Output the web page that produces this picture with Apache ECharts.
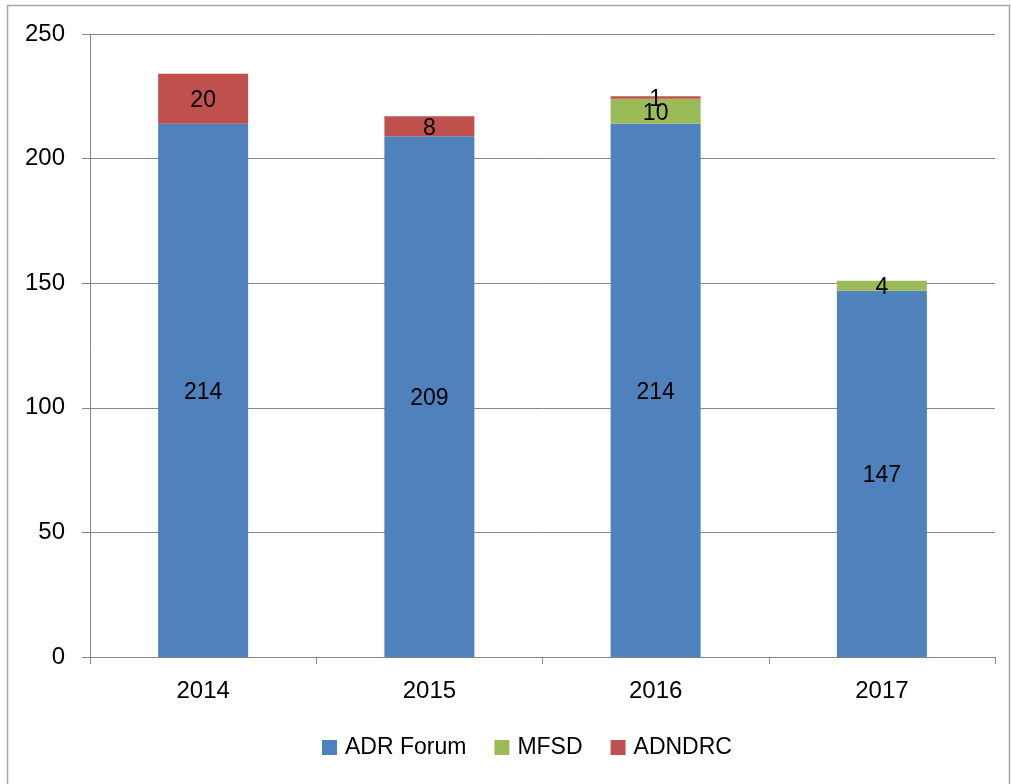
<!DOCTYPE html>
<html><head><meta charset="utf-8">
<script src="https://cdn.jsdelivr.net/npm/echarts@6/dist/echarts.min.js"></script>
<style>html,body{margin:0;padding:0;background:#fff}#c{width:1011px;height:784px}</style>
</head><body><div id="c"></div>
<script>
const categories = ['2014', '2015', '2016', '2017'];
const adrForum = [214, 209, 214, 147];
const mfsd = [null, null, 10, 4];
const adndrc = [20, 8, 1, null];
const yTicks = { min: 0, max: 250, interval: 50 };

const font = 'Liberation Sans, Arial, sans-serif';
const lbl = { show: true, position: 'inside', color: '#000', fontSize: 23, fontFamily: font, offset: [0, 2] };
const chart = echarts.init(document.getElementById('c'), null, { renderer: 'canvas' });
chart.setOption({
  animation: false,
  graphic: [{ type: 'rect', shape: { x: 7.5, y: 5.5, width: 1002, height: 800 }, style: { fill: 'none', stroke: '#a6a6a6', lineWidth: 1.5 }, silent: true }],
  grid: { left: 90, right: 16, top: 34, bottom: 127, containLabel: false },
  legend: {
    bottom: 20, left: 317, itemWidth: 15, itemHeight: 15, itemGap: 28,
    icon: 'rect',
    textStyle: { fontSize: 23, fontFamily: font, color: '#000', padding: [0, 0, 0, 3] },
    data: ['ADR Forum', 'MFSD', 'ADNDRC']
  },
  xAxis: {
    type: 'category', data: categories,
    axisLine: { lineStyle: { color: '#868686', width: 1 } },
    axisTick: { show: true, length: 7, alignWithLabel: false, lineStyle: { color: '#868686' } },
    axisLabel: { fontSize: 24, fontFamily: font, color: '#000', margin: 22 }
  },
  yAxis: {
    type: 'value', min: yTicks.min, max: yTicks.max, interval: yTicks.interval,
    axisLine: { show: true, lineStyle: { color: '#868686', width: 1 } },
    axisTick: { show: true, length: 8, lineStyle: { color: '#868686' } },
    splitLine: { show: true, lineStyle: { color: '#868686', width: 1 } },
    axisLabel: { fontSize: 24, fontFamily: font, color: '#000', margin: 25 }
  },
  series: [
    { name: 'ADR Forum', type: 'bar', stack: 's', barWidth: 90, data: adrForum, itemStyle: { color: '#4F81BD' }, label: lbl },
    { name: 'MFSD', type: 'bar', stack: 's', barWidth: 90, data: mfsd, itemStyle: { color: '#9BBB59' }, label: lbl },
    { name: 'ADNDRC', type: 'bar', stack: 's', barWidth: 90, data: adndrc, itemStyle: { color: '#C0504D' }, label: lbl }
  ]
});
</script></body></html>
